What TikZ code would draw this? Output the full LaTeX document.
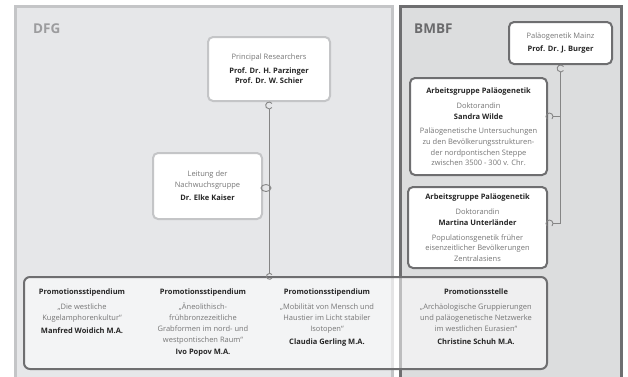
\documentclass[tikz,border=0pt]{standalone}
\usepackage{fontspec}
\setmainfont{Open Sans}
\usetikzlibrary{positioning}
\definecolor{dfgfill}{HTML}{E6E7E9}
\definecolor{dfgline}{HTML}{C4C5C7}
\definecolor{dfglabel}{HTML}{9C9C9E}
\definecolor{bmbffill}{HTML}{DCDDDE}
\definecolor{bmbfline}{HTML}{6E6E70}
\definecolor{bmbflabel}{HTML}{6A6A6C}
\definecolor{rolegray}{HTML}{767676}
\definecolor{namegray}{HTML}{262626}
\definecolor{linkgray}{HTML}{858585}
\tikzset{
  panel/.style      = {line width=2.5pt},
  panellabel/.style = {font=\fontsize{13.5}{13.5}\selectfont\bfseries, anchor=base west, inner sep=0pt},
  personbox/.style  = {shape=rectangle, rounded corners=5pt, draw=dfgline,
                       line width=2pt, fill=white, align=center, text=rolegray,
                       font=\fontsize{7.5}{10.6}\selectfont, inner sep=1pt},
  bmbfbox/.style    = {personbox, draw=bmbfline},
  column/.style     = {align=center, text=rolegray, anchor=north,
                       font=\fontsize{7.5}{10.8}\selectfont, inner sep=0pt},
  link/.style       = {draw=linkgray, line width=0.9pt},
  hook/.style       = {link, fill=none}
}
\newcommand{\nm}[1]{{\bfseries\color{namegray}#1}}

\begin{document}
\begin{tikzpicture}[x=1pt, y=-1pt]
  \useasboundingbox (0,0) rectangle (628,376);
  \clip (0,0) rectangle (628,376);
  % funding panels
  \filldraw[panel, draw=dfgline, fill=dfgfill] (15.5,6.5) rectangle (392.5,392);
  \filldraw[panel, draw=bmbfline, fill=bmbffill] (400.5,6.5) rectangle (621.5,392);
  \node[panellabel, text=dfglabel] (dfg) at (33,33) {DFG};
  \node[panellabel, text=bmbflabel] (bmbf) at (414,33) {BMBF};

  % DFG side
  \node[personbox, minimum width=122pt, minimum height=64pt] (pi) at (269,69)
    {Principal Researchers\\[3pt] \nm{Prof. Dr. H. Parzinger}\\ \nm{Prof. Dr. W. Schier}};
  \node[personbox, minimum width=109pt, minimum height=66pt] (lead) at (207.5,186)
    {Leitung der\\ Nachwuchsgruppe\\[3pt] \nm{Dr. Elke Kaiser}};

  % BMBF side
  \node[bmbfbox, minimum width=103pt, minimum height=42pt] (mz) at (560.5,43)
    {Paläogenetik Mainz\\[3pt] \nm{Prof. Dr. J. Burger}};
  \node[bmbfbox, minimum width=137pt, minimum height=97pt] (ag1) at (478.5,126.5)
    {\nm{Arbeitsgruppe Paläogenetik}\\[5pt] Doktorandin\\ \nm{Sandra Wilde}\\[4pt]
     Paläogenetische Untersuchungen\\ zu den Bevölkerungsstrukturen-\\
     der nordpontischen Steppe\\ zwischen 3500 - 300 v. Chr.};
  \node[bmbfbox, minimum width=139pt, minimum height=81pt] (ag2) at (477.5,227.5)
    {\nm{Arbeitsgruppe Paläogenetik}\\[5pt] Doktorandin\\ \nm{Martina Unterländer}\\[4pt]
     Populationsgenetik früher\\ eisenzeitlicher Bevölkerungen\\ Zentralasiens};

  % doctoral box across both panels
  \node[shape=rectangle, rounded corners=6pt, draw=bmbfline, line width=2pt,
        fill=white, fill opacity=0.55, minimum width=523pt, minimum height=92pt]
        (phd) at (285.5,323) {};
  \node[column] (col1) at (82,289)
    {\nm{Promotionsstipendium}\\[4pt] „Die westliche\\ Kugelamphorenkultur“\\[2pt]
     \nm{Manfred Woidich M.A.}};
  \node[column] (col2) at (203,289)
    {\nm{Promotionsstipendium}\\[4pt] „Äneolithisch-\\ frühbronzezeitliche\\
     Grabformen im nord- und\\ westpontischen Raum“\\[2pt] \nm{Ivo Popov M.A.}};
  \node[column] (col3) at (327,289)
    {\nm{Promotionsstipendium}\\[4pt] „Mobilität von Mensch und\\ Haustier im Licht stabiler\\
     Isotopen“\\[2pt] \nm{Claudia Gerling M.A.}};
  \node[column] (col4) at (476,289)
    {\nm{Promotionsstelle}\\[4pt] „Archäologische Gruppierungen\\ und paläogenetische Netzwerke\\
     im westlichen Eurasien“\\[2pt] \nm{Christine Schuh M.A.}};

  % connectors
  \coordinate (phdin) at (pi.south |- phd.north);
  \draw[hook] ([yshift=-3.5pt]pi.south) ++(3,-2) arc[start angle=35, end angle=325, radius=3.5pt];
  \draw[hook] (phdin) ++(3,2) arc[start angle=-35, end angle=-325, radius=3pt];
  \draw[link] ([yshift=-7pt]pi.south) -- ([yshift=3pt]phdin);
  \draw[hook] ([xshift=3pt, yshift=-2pt]lead.east) ellipse[x radius=5pt, y radius=3.5pt];

  \coordinate (ag1k) at ([yshift=10pt]ag1.east);
  \coordinate (ag2k) at ([yshift=4pt]ag2.east);
  \draw[hook] ([yshift=-3.5pt]mz.south) ++(3,-2) arc[start angle=35, end angle=325, radius=3.5pt];
  \draw[hook] ([xshift=1.5pt]ag1k) ++(-2.5,2.5) arc[start angle=225, end angle=-45, radius=3.5pt];
  \draw[hook] ([xshift=1.5pt]ag2k) ++(-2.5,2.5) arc[start angle=225, end angle=-45, radius=3.5pt];
  \draw[link] ([yshift=-7pt]mz.south) |- ([xshift=5pt]ag2k);
  \draw[link] ([xshift=5pt]ag1k) -- (mz.south |- ag1k);
\end{tikzpicture}
\end{document}
